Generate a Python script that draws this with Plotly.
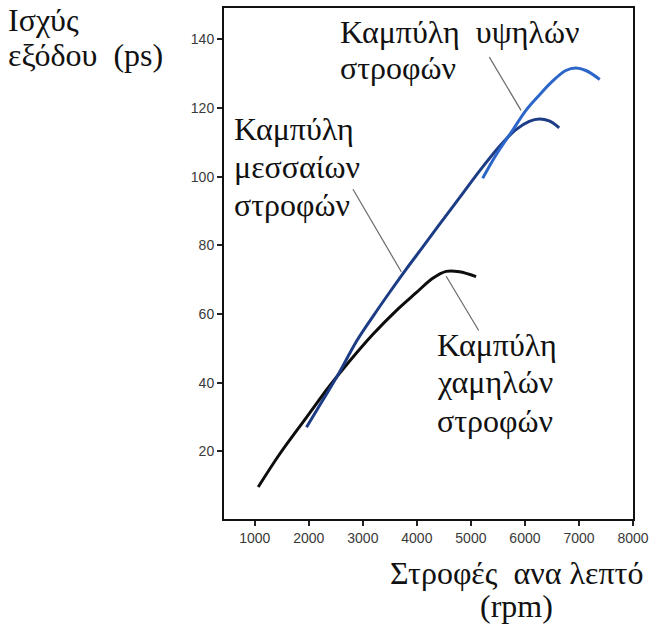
import plotly.graph_objects as go

# ---- data ----
low_rpm = [1063, 1464, 1957, 2387, 2756, 3187, 3619, 3988, 4294, 4542, 4787, 5096]
low_ps = [9.6, 19.3, 29.9, 39.1, 46.3, 54.1, 61.0, 66.2, 70.4, 72.4, 72.3, 70.9]

mid_rpm = [1957, 2263, 2572, 2880, 3200, 3500, 3800, 4100, 4418, 4787, 5157, 5526, 5834, 6080, 6264, 6449, 6634]
mid_ps = [27.0, 35.0, 43.2, 52.0, 59.6, 66.4, 73.0, 79.3, 86.1, 93.8, 101.6, 108.8, 113.7, 116.1, 116.8, 116.2, 114.2]

high_rpm = [5217, 5465, 5771, 6019, 6264, 6510, 6757, 6942, 7127, 7385]
high_ps = [99.5, 106.3, 113.5, 119.3, 123.7, 127.8, 130.9, 131.6, 130.9, 128.3]

# leader lines from labels to curves
leader_low_rpm = [4542, 5144]
leader_low_ps = [71.0, 55.2]
leader_mid_rpm = [2817, 3711]
leader_mid_ps = [96.3, 72.3]
leader_high_rpm = [5341, 5927]
leader_high_ps = [134.8, 119.3]

x_ticks = [1000, 2000, 3000, 4000, 5000, 6000, 7000, 8000]
y_ticks = [20, 40, 60, 80, 100, 120, 140]

label_high = ["Καμπύλη\u00a0\u00a0υψηλών", "στροφών"]
label_mid = ["Καμπύλη", "μεσσαίων", "στροφών"]
label_low = ["Καμπύλη", "χαμηλών", "στροφών"]
y_title = ["Ισχύς", "εξόδου\u00a0\u00a0(ps)"]
x_title = ["Στροφές\u00a0\u00a0ανα λεπτό", "(rpm)"]

fig = go.Figure()

for xs, ys in [(leader_low_rpm, leader_low_ps), (leader_mid_rpm, leader_mid_ps),
               (leader_high_rpm, leader_high_ps)]:
    fig.add_trace(go.Scatter(x=xs, y=ys, mode="lines",
                             line=dict(color="#6a6a6a", width=1.2),
                             hoverinfo="skip", showlegend=False))

fig.add_trace(go.Scatter(x=low_rpm, y=low_ps, mode="lines",
                         line=dict(color="#0d0d0d", width=3, shape="spline"),
                         showlegend=False))
fig.add_trace(go.Scatter(x=mid_rpm, y=mid_ps, mode="lines",
                         line=dict(color="#1d3c86", width=3, shape="spline"),
                         showlegend=False))
fig.add_trace(go.Scatter(x=high_rpm, y=high_ps, mode="lines",
                         line=dict(color="#2c66c9", width=3, shape="spline"),
                         showlegend=False))

serif = "Liberation Serif, Times New Roman, serif"
lab_font = dict(family=serif, size=32, color="#111111")


def add_lines(lines, x, ys, xanchor="left"):
    for text, y in zip(lines, ys):
        fig.add_annotation(xref="paper", yref="paper", showarrow=False, font=lab_font,
                           text=text, x=x, y=y, xanchor=xanchor, yanchor="middle")


add_lines(label_high, 0.2780, [0.9532, 0.8821])
add_lines(label_mid, 0.0195, [0.7632, 0.6891, 0.6150])
add_lines(label_low, 0.5171, [0.3402, 0.2680, 0.1920])
add_lines(y_title, -0.5341, [0.9756, 0.9074])
add_lines(x_title, 0.7146, [-0.1062, -0.1706], xanchor="center")

axis_common = dict(
    showgrid=False, zeroline=False, showline=True, linecolor="#111111", linewidth=2,
    mirror=True, ticks="outside", ticklen=5, tickwidth=1.5, tickcolor="#222222",
    tickfont=dict(family="Liberation Sans, Arial, sans-serif", size=14, color="#3a3a3a"),
)

fig.update_xaxes(range=[430, 8000], tickvals=x_ticks, ticktext=[str(v) for v in x_ticks],
                 **axis_common)
fig.update_yaxes(range=[0.3, 149.1], tickvals=y_ticks, ticktext=[str(v) for v in y_ticks],
                 **axis_common)

fig.update_layout(
    width=655, height=627,
    margin=dict(l=224, r=21, t=6, b=108),
    paper_bgcolor="white", plot_bgcolor="white",
)

fig.write_html("out.html", config={"displayModeBar": False},
               post_script="document.body.style.margin='0px';")
